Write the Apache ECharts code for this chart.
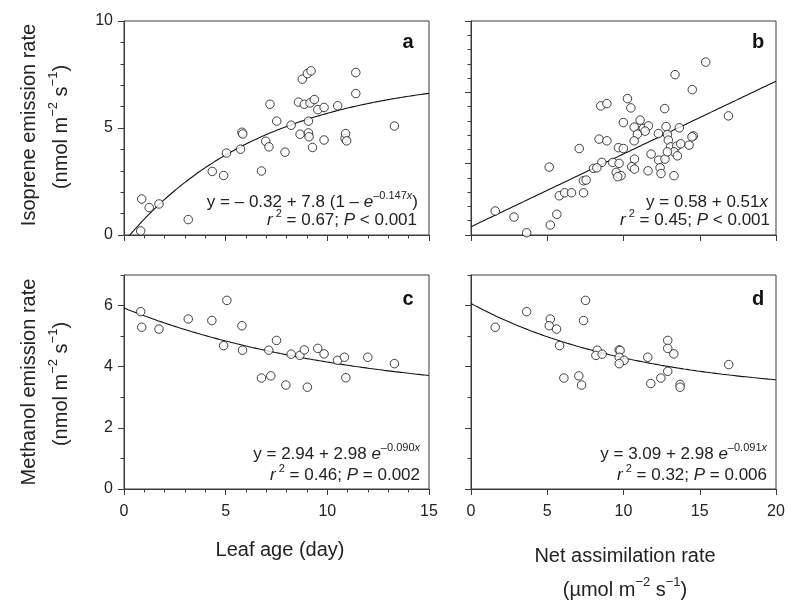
<!DOCTYPE html>
<html><head><meta charset="utf-8">
<script src="https://cdn.jsdelivr.net/npm/echarts@6/dist/echarts.min.js"></script>
<style>html,body{margin:0;padding:0;background:#fff}#chart{width:800px;height:613px}</style>
</head><body><div id="chart"></div>
<script>
// Panel a: leaf age (day) vs isoprene emission rate
const leafAgeA = [0.87,1.24,1.72,0.82,3.16,4.34,4.90,5.04,5.73,5.80,5.84,6.76,6.97,7.13,7.18,7.51,7.92,8.22,8.58,8.66,8.77,8.87,9.02,9.20,9.07,9.07,9.10,9.15,9.27,9.36,9.53,9.84,9.84,10.51,10.87,10.90,10.95,11.40,11.40,13.30];
const isopreneA = [1.68,1.28,1.45,0.19,0.72,2.97,2.78,3.83,4.01,4.80,4.72,2.99,4.38,4.12,6.11,5.32,3.87,5.13,6.21,4.71,7.28,6.11,7.54,7.67,5.32,4.77,4.59,6.17,4.09,6.33,5.86,5.96,4.44,6.04,4.51,4.74,4.40,7.59,6.61,5.09];
// Panel b: net assimilation rate vs isoprene emission rate
const assimB = [1.59,2.82,3.65,5.13,5.20,5.63,5.79,6.14,6.59,7.37,7.38,7.55,7.10,13.38,15.39,16.88,
  14.51,8.51,8.91,10.26,10.48,12.70,9.99,11.09,10.70,10.91,11.30,11.63,11.42,12.79,13.66,12.29,12.88,14.58,14.49,
  8.40,8.91,10.70,12.94,13.09,13.49,13.75,14.30,9.67,9.99,11.81,12.31,12.72,13.31,13.53,12.88,
  8.58,9.29,9.71,10.72,10.54,10.72,8.03,8.25,9.52,9.84,9.62,11.61,12.40,12.46,13.31];
const isopreneB = [1.68,1.26,0.16,4.76,0.70,1.45,2.75,2.96,2.96,3.80,2.96,3.85,6.06,11.24,12.12,8.35,
  10.19,9.05,9.21,9.56,8.91,8.86,7.88,8.05,7.56,7.07,7.47,7.65,7.28,7.60,7.51,7.11,7.04,6.95,6.88,
  6.72,6.60,6.60,6.65,6.18,6.23,6.39,6.30,6.12,6.06,5.67,5.25,5.32,5.83,5.55,5.83,
  5.09,5.09,5.02,5.32,4.79,4.62,4.67,4.71,4.39,4.16,4.09,4.50,4.71,4.31,4.16];
// Panel c: leaf age vs methanol emission rate
const leafAgeC = [0.82,0.87,1.72,3.16,4.32,5.06,4.90,5.80,5.83,6.76,7.12,7.22,7.50,7.96,8.22,8.65,8.87,9.02,9.53,9.84,10.50,10.84,10.91,11.99,13.30];
const methanolC = [5.80,5.29,5.23,5.56,5.51,6.17,4.69,5.34,4.54,3.63,4.54,3.70,4.86,3.40,4.41,4.37,4.55,3.33,4.60,4.42,4.21,4.31,3.64,4.31,4.10];
// Panel d: net assimilation rate vs methanol emission rate
const assimD = [1.59,3.65,5.20,5.13,5.61,5.81,6.09,7.07,7.25,7.38,7.51,8.28,8.19,8.60,9.72,9.78,9.72,10.04,9.72,11.59,11.79,12.45,12.90,12.90,12.90,13.30,13.71,13.71,16.90];
const methanolD = [5.29,5.80,5.56,5.34,5.23,4.69,3.63,3.70,3.40,5.51,6.17,4.54,4.37,4.41,4.55,4.53,4.31,4.21,4.10,4.31,3.45,3.63,4.86,4.60,3.85,4.42,3.42,3.33,4.07];
// Fitted curves (coefficients printed in each panel)
const fitA = [-0.32, 7.8, 0.147];   // y = a + b(1 - e^(-c x))
const fitB = [0.58, 0.51];          // y = a + b x
const fitC = [2.94, 2.98, 0.090];   // y = a + b e^(-c x)
const fitD = [3.09, 2.98, 0.091];
// Axis ranges / ticks
const xMaxAge = 15, xMaxAssim = 20;
const yMaxIso = 10, yMaxIsoB = 15, yMaxMeth = 7;
const methLabels = [0, 2, 4, 6];

function pairs(xs, ys){ return xs.map((x,i)=>[x, ys[i]]); }
function curve(fn, x0, x1){ const out=[]; for(let x=x0; x<=x1+1e-9; x+=0.05) out.push([+x.toFixed(2), fn(x)]); return out; }

const FONT = 'Liberation Sans, Arial, sans-serif';
const AX = '#3a3a3a';
const TXT = '#222';

function xAxis(grid, max, minor, labels){
  return {type:'value', gridIndex:grid, min:0, max:max, interval:5,
    axisLine:{show:true, onZero:false, lineStyle:{color:AX, width:1}},
    axisTick:{show:true, inside:false, length:6, lineStyle:{color:AX}},
    minorTick:{show:minor, splitNumber:5, length:3.5, lineStyle:{color:AX}},
    splitLine:{show:false}, minorSplitLine:{show:false},
    axisLabel:{show:labels, color:TXT, fontSize:16, fontFamily:FONT, margin:15}};
}
function yAxisMain(grid, max, labels, opts){
  const o = {type:'value', gridIndex:grid, min:0, max:max, interval:5, position:'left',
    axisLine:{show:true, onZero:false, lineStyle:{color:AX, width:1}},
    axisTick:{show:true, inside:false, length:6, lineStyle:{color:AX}},
    minorTick:{show:true, splitNumber:5, length:3.5, lineStyle:{color:AX}},
    splitLine:{show:false}, minorSplitLine:{show:false},
    axisLabel:{show:labels, color:TXT, fontSize:16, fontFamily:FONT, margin:11}};
  return Object.assign(o, opts||{});
}

const yAxes = [
  yAxisMain(0, yMaxIso, true),
  yAxisMain(1, yMaxIsoB, false),
  yAxisMain(2, yMaxMeth, true, {interval:1,
    axisTick:{show:true, length:6, customValues:methLabels, lineStyle:{color:AX}},
    minorTick:{show:false},
    axisLabel:{show:true, customValues:methLabels, color:TXT, fontSize:16, fontFamily:FONT, margin:11}}),
  yAxisMain(3, yMaxMeth, false, {interval:1,
    axisTick:{show:true, length:6, customValues:methLabels, lineStyle:{color:AX}},
    minorTick:{show:false}}),
  // minor ticks for methanol panels
  {type:'value', gridIndex:2, min:0, max:yMaxMeth, interval:1, position:'left',
    axisLine:{show:false}, axisTick:{show:true, length:3.5, lineStyle:{color:AX}}, axisLabel:{show:false}, splitLine:{show:false}},
  {type:'value', gridIndex:3, min:0, max:yMaxMeth, interval:1, position:'left',
    axisLine:{show:false}, axisTick:{show:true, length:3.5, lineStyle:{color:AX}}, axisLabel:{show:false}, splitLine:{show:false}}
];

const scatterStyle = {symbol:'circle', symbolSize:8.5, itemStyle:{color:'#fff', borderColor:'#111', borderWidth:1}, z:3};
const lineStyle = {showSymbol:false, symbol:'none', lineStyle:{color:'#111', width:1.1}, z:2, clip:true, silent:true};

const series = [
  Object.assign({type:'line', xAxisIndex:0, yAxisIndex:0, data:curve(x=>fitA[0]+fitA[1]*(1-Math.exp(-fitA[2]*x)), 0, xMaxAge)}, lineStyle),
  Object.assign({type:'line', xAxisIndex:1, yAxisIndex:1, data:curve(x=>fitB[0]+fitB[1]*x, 0, xMaxAssim)}, lineStyle),
  Object.assign({type:'line', xAxisIndex:2, yAxisIndex:2, data:curve(x=>fitC[0]+fitC[1]*Math.exp(-fitC[2]*x), 0, xMaxAge)}, lineStyle),
  Object.assign({type:'line', xAxisIndex:3, yAxisIndex:3, data:curve(x=>fitD[0]+fitD[1]*Math.exp(-fitD[2]*x), 0, xMaxAssim)}, lineStyle),
  Object.assign({type:'scatter', xAxisIndex:0, yAxisIndex:0, data:pairs(leafAgeA, isopreneA)}, scatterStyle),
  Object.assign({type:'scatter', xAxisIndex:1, yAxisIndex:1, data:pairs(assimB, isopreneB)}, scatterStyle),
  Object.assign({type:'scatter', xAxisIndex:2, yAxisIndex:2, data:pairs(leafAgeC, methanolC)}, scatterStyle),
  Object.assign({type:'scatter', xAxisIndex:3, yAxisIndex:3, data:pairs(assimD, methanolD)}, scatterStyle)
];

const eqRich = {
  n:{fontSize:17, fontFamily:FONT, color:TXT, lineHeight:20, verticalAlign:'bottom'},
  i:{fontSize:17, fontFamily:FONT, color:TXT, fontStyle:'italic', lineHeight:20, verticalAlign:'bottom'},
  s:{fontSize:11, fontFamily:FONT, color:TXT, lineHeight:10, verticalAlign:'top'},
  si:{fontSize:11, fontFamily:FONT, color:TXT, fontStyle:'italic', lineHeight:10, verticalAlign:'top'}
};
const titleRich = {
  t:{fontSize:20, fontFamily:FONT, color:TXT, lineHeight:25, verticalAlign:'bottom'},
  s:{fontSize:13, fontFamily:FONT, color:TXT, lineHeight:12, verticalAlign:'top'}
};
function txt(x, y, text, rich, align, rot){
  return {type:'text', x:x, y:y, rotation:rot||0, z:10, silent:true,
    style:{text:text, rich:rich, align:align, textAlign:align, verticalAlign:'middle', textVerticalAlign:'middle', fill:TXT}};
}
function letter(x, y, s){
  return {type:'text', x:x, y:y, z:10, silent:true,
    style:{text:s, fontSize:20, fontWeight:'bold', fontFamily:FONT, fill:'#111', align:'center', textAlign:'center', verticalAlign:'middle', textVerticalAlign:'middle'}};
}
const unitLine = '{t|(nmol m}{s|−2}{t| s}{s|−1}{t|)}';
const R90 = Math.PI/2;

const graphic = [
  letter(408, 42, 'a'), letter(758, 42, 'b'), letter(408, 299, 'c'), letter(758, 299, 'd'),
  txt(418, 200.5, '{n|y = – 0.32 + 7.8 (1 – }{i|e}{s|–0.147}{si|x}{n|)}', eqRich, 'right'),
  txt(417, 218.5, '{i|r}{s| 2}{n| = 0.67; }{i|P}{n| < 0.001}', eqRich, 'right'),
  txt(768, 200.5, '{n|y = 0.58 + 0.51}{i|x}', eqRich, 'right'),
  txt(770, 218.5, '{i|r}{s| 2}{n| = 0.45; }{i|P}{n| < 0.001}', eqRich, 'right'),
  txt(420, 452.5, '{n|y = 2.94 + 2.98 }{i|e}{s|–0.090}{si|x}', eqRich, 'right'),
  txt(420, 473.5, '{i|r}{s| 2}{n| = 0.46; }{i|P}{n| = 0.002}', eqRich, 'right'),
  txt(767, 452.5, '{n|y = 3.09 + 2.98 }{i|e}{s|–0.091}{si|x}', eqRich, 'right'),
  txt(767, 473.5, '{i|r}{s| 2}{n| = 0.32; }{i|P}{n| = 0.006}', eqRich, 'right'),
  txt(27, 125, '{t|Isoprene emission rate}', titleRich, 'center', R90),
  txt(59, 127, unitLine, titleRich, 'center', R90),
  txt(27, 382, '{t|Methanol emission rate}', titleRich, 'center', R90),
  txt(59, 384, unitLine, titleRich, 'center', R90),
  txt(280, 548, '{t|Leaf age (day)}', titleRich, 'center'),
  txt(625, 554, '{t|Net assimilation rate}', titleRich, 'center'),
  txt(625, 588, '{t|(µmol m}{s|−2}{t| s}{s|−1}{t|)}', titleRich, 'center')
];

const gridBase = {show:true, borderColor:AX, borderWidth:1, backgroundColor:'transparent', containLabel:false};
const option = {
  backgroundColor:'#fff',
  animation:false,
  grid:[
    Object.assign({left:124, top:21, width:305, height:214}, gridBase),
    Object.assign({left:471, top:21, width:305, height:214}, gridBase),
    Object.assign({left:124, top:275, width:305, height:214}, gridBase),
    Object.assign({left:471, top:275, width:305, height:214}, gridBase)
  ],
  xAxis:[xAxis(0, xMaxAge, true, false), xAxis(1, xMaxAssim, false, false), xAxis(2, xMaxAge, true, true), xAxis(3, xMaxAssim, false, true)],
  yAxis:yAxes,
  series:series,
  graphic:graphic
};
const chart = echarts.init(document.getElementById('chart'), null, {renderer:'canvas'});
chart.setOption(option);
</script></body></html>
